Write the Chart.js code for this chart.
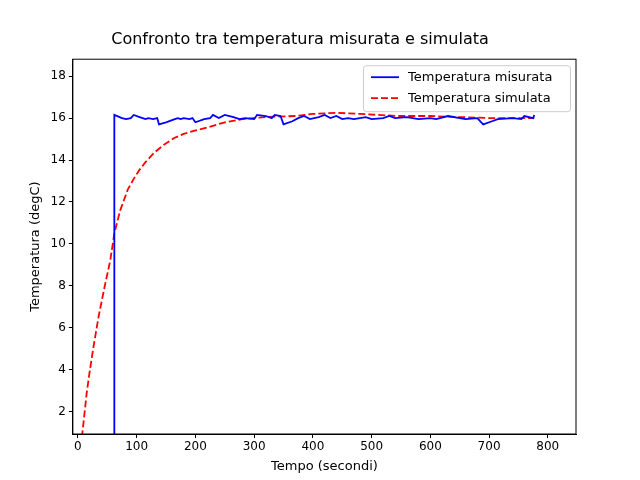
<!DOCTYPE html>
<html lang="it">
<head>
<meta charset="UTF-8">
<title>Confronto temperature</title>
<script src="https://cdn.jsdelivr.net/npm/chart.js"></script>
<style>
  body { margin: 0; background: #fff; }
</style>
</head>
<body>
<canvas id="chart" width="640" height="480"></canvas>
<script>
// temperatura misurata
const tempoMis = [62, 62, 75, 82, 90, 95, 105, 115, 120, 128, 135, 138, 150, 165, 170, 175, 180, 190, 195, 200,
  215, 225, 230, 240, 250, 265, 275, 285, 300, 305, 320, 330, 335, 345, 350, 365, 375, 385, 395, 410,
  420, 430, 440, 450, 460, 470, 490, 500, 520, 530, 540, 560, 580, 600, 610, 630, 650, 660, 680, 690,
  705, 715, 740, 755, 760, 775, 777];
const valMis = [0.5, 16.15, 16.0, 15.95, 16.0, 16.15, 16.05, 15.95, 16.0, 15.95, 16.0, 15.7, 15.8, 15.95, 16.0, 15.95, 16.0, 15.95, 16.0, 15.8,
  15.95, 16.0, 16.15, 16.0, 16.15, 16.05, 15.95, 16.0, 15.95, 16.15, 16.1, 16.0, 16.15, 16.1, 15.7, 15.85, 16.0, 16.1, 15.95, 16.05,
  16.15, 16.0, 16.1, 15.95, 16.0, 15.95, 16.05, 15.95, 16.0, 16.1, 16.0, 16.05, 15.95, 16.0, 15.95, 16.1, 16.0, 15.95, 16.0, 15.7,
  15.85, 15.95, 16.0, 15.95, 16.1, 16.0, 16.15];
// temperatura simulata
const tempoSim = [5, 10, 15, 20, 26, 35, 45, 55, 62, 72, 85, 95, 104, 115, 130, 145, 164, 180, 199, 220, 250, 280, 320, 371, 400, 440, 480, 544, 600, 650, 700, 740, 777];
const valSim = [0.3, 1.6, 2.9, 3.9, 5.0, 6.5, 7.9, 9.2, 10.5, 11.6, 12.6, 13.1, 13.5, 13.9, 14.35, 14.7, 15.05, 15.25, 15.4, 15.55, 15.8, 15.95, 16.05, 16.1, 16.2, 16.25, 16.2, 16.1, 16.1, 16.05, 16.0, 16.0, 16.0];
const xTicks = [0, 100, 200, 300, 400, 500, 600, 700, 800];
const yTicks = [2, 4, 6, 8, 10, 12, 14, 16, 18];

const toPoints = (xs, ys) => xs.map((x, i) => ({ x: x, y: ys[i] }));

const insideLegend = {
  id: 'insideLegend',
  afterDraw(chart) {
    const ctx = chart.ctx, a = chart.chartArea;
    const w = 207, h = 46, x = a.right - w - 6, y = a.top + 6;
    ctx.save();
    ctx.fillStyle = 'rgba(255,255,255,0.8)';
    ctx.strokeStyle = '#ccc';
    ctx.lineWidth = 1;
    ctx.beginPath();
    ctx.roundRect(x + 0.5, y + 0.5, w, h, 3);
    ctx.fill(); ctx.stroke();
    ctx.font = '13px "DejaVu Sans"';
    ctx.textBaseline = 'middle';
    chart.data.datasets.forEach((ds, i) => {
      const ly = y + 12 + i * 21;
      ctx.strokeStyle = ds.borderColor;
      ctx.lineWidth = 1.8;
      ctx.setLineDash(ds.borderDash || []);
      ctx.beginPath(); ctx.moveTo(x + 8, ly); ctx.lineTo(x + 36, ly); ctx.stroke();
      ctx.setLineDash([]);
      ctx.fillStyle = '#000';
      ctx.fillText(ds.label, x + 45, ly);
    });
    ctx.restore();
  }
};

const tickGrid = { drawOnChartArea: false, drawTicks: true, tickLength: 4, color: '#000' };

new Chart(document.getElementById('chart'), {
  type: 'line',
  data: {
    datasets: [
      { label: 'Temperatura misurata', data: toPoints(tempoMis, valMis), borderColor: '#0000ff', borderWidth: 1.8, pointRadius: 0, tension: 0 },
      { label: 'Temperatura simulata', data: toPoints(tempoSim, valSim), borderColor: '#ff0000', borderWidth: 1.8, borderDash: [7, 3], pointRadius: 0, tension: 0 }
    ]
  },
  options: {
    responsive: false,
    animation: false,
    layout: { padding: { left: 24, right: 64, top: 10, bottom: 6 } },
    plugins: {
      legend: { display: false },
      tooltip: { enabled: false },
      title: { display: true, text: 'Confronto tra temperatura misurata e simulata', color: '#000',
               font: { family: 'DejaVu Sans', size: 16, weight: 'normal' }, padding: { top: 20, bottom: 10 } }
    },
    scales: {
      x: {
        type: 'linear', min: -8.6, max: 848,
        afterBuildTicks: s => { s.ticks = xTicks.map(v => ({ value: v })); },
        grid: tickGrid,
        border: { color: '#000' },
        ticks: { color: '#000', padding: 2, font: { family: 'DejaVu Sans', size: 12 } },
        title: { display: true, text: 'Tempo (secondi)', color: '#000', padding: { top: 2, bottom: 0 }, font: { family: 'DejaVu Sans', size: 13 } }
      },
      y: {
        min: 0.93, max: 18.81,
        afterBuildTicks: s => { s.ticks = yTicks.map(v => ({ value: v })); },
        grid: tickGrid,
        border: { color: '#000' },
        ticks: { color: '#000', padding: 3, font: { family: 'DejaVu Sans', size: 12 } },
        title: { display: true, text: 'Temperatura (degC)', color: '#000', font: { family: 'DejaVu Sans', size: 13 } }
      }
    }
  },
  plugins: [insideLegend, {
    id: 'frame',
    afterDraw(chart) {
      const a = chart.chartArea, ctx = chart.ctx;
      ctx.save(); ctx.strokeStyle = '#000'; ctx.lineWidth = 1;
      ctx.strokeRect(a.left, a.top, a.right - a.left, a.bottom - a.top);
      ctx.restore();
    }
  }]
});
</script>
</body>
</html>
